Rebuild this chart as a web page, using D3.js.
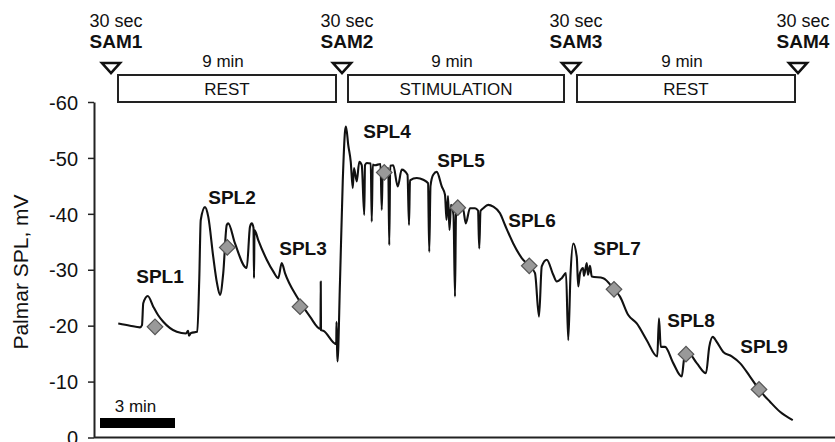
<!DOCTYPE html>
<html>
<head>
<meta charset="utf-8">
<script src="https://cdn.jsdelivr.net/npm/d3@7"></script>
<style>
  html, body { margin: 0; padding: 0; background: #fff; }
  svg { display: block; font-family: "Liberation Sans", Arial, sans-serif; }
</style>
</head>
<body>
<svg id="chart" width="835" height="442"></svg>
<script>
// ---- data (time in minutes, palmar SPL in mV) ----
const traceTime = [
  0.97, 1.44, 1.84, 1.92, 1.97, 2.15, 2.37, 2.56, 2.77, 3.31, 3.68, 3.76, 3.80, 3.88, 4.13,
  4.21, 4.27, 4.44, 4.57, 4.77, 4.92, 5.04, 5.17, 5.31, 5.37, 5.64, 6.11, 6.24, 6.31, 6.38,
  6.40, 6.42, 6.57, 6.91, 7.17, 7.37, 7.51, 7.64, 8.11, 8.64, 9.06, 9.07, 9.08, 9.17, 9.69,
  9.70, 9.72, 9.74, 9.84, 9.95, 10.04, 10.08, 10.17, 10.27, 10.35, 10.40, 10.51, 10.61, 10.71, 10.81,
  10.84, 10.91, 11.07, 11.11, 11.15, 11.24, 11.46, 11.51, 11.55, 11.61, 11.77, 11.81, 11.85, 11.97, 12.15,
  12.31, 12.54, 12.60, 12.64, 12.91, 13.17, 13.36, 13.41, 13.46, 13.57, 13.71, 13.91, 14.04, 14.10, 14.16,
  14.22, 14.28, 14.38, 14.44, 14.48, 14.55, 14.77, 14.87, 15.04, 15.24, 15.36, 15.41, 15.46, 15.57, 15.77,
  15.97, 16.24, 16.44, 16.77, 17.11, 17.41, 17.64, 17.80, 17.91, 18.11, 18.37, 18.51, 18.71, 18.88, 18.97,
  19.06, 19.17, 19.31, 19.37, 19.44, 19.56, 19.60, 19.71, 19.76, 19.84, 19.91, 20.37, 20.80, 21.04, 21.37,
  21.71, 22.11, 22.53, 22.60, 22.67, 22.84, 23.17, 23.51, 23.60, 23.68, 23.77, 24.11, 24.48, 24.61, 24.75,
  24.91, 25.17, 25.51, 25.84, 26.24, 26.60, 27.04, 27.44, 27.95
];
const traceSPL = [
  -20.4, -20.0, -19.7, -20.1, -24.0, -25.3, -23.4, -21.9, -20.7, -18.9, -18.6, -19.1, -18.2, -18.7, -18.9,
  -28.2, -38.9, -41.2, -39.5, -32.3, -27.6, -25.5, -29.4, -38.0, -38.3, -34.7, -30.3, -37.7, -38.3, -37.5,
  -28.5, -37.1, -35.3, -31.8, -29.7, -28.5, -31.2, -29.4, -25.2, -21.6, -19.4, -27.9, -19.2, -19.1, -16.7,
  -20.7, -16.5, -13.6, -27.9, -45.8, -54.7, -55.6, -52.3, -49.3, -44.6, -48.2, -45.8, -49.3, -48.7, -39.8,
  -48.7, -49.1, -49.0, -38.6, -48.8, -48.7, -48.9, -40.7, -48.0, -47.4, -48.2, -34.4, -48.6, -48.7, -44.9,
  -47.9, -47.0, -38.0, -46.0, -46.4, -46.1, -45.5, -33.2, -45.0, -47.0, -47.5, -44.9, -43.4, -38.9, -43.2,
  -37.1, -41.6, -39.8, -25.2, -39.8, -41.1, -40.7, -38.3, -41.0, -41.0, -40.6, -33.8, -40.5, -41.0, -41.6,
  -41.3, -40.1, -38.0, -34.7, -32.1, -30.7, -29.4, -21.6, -30.6, -31.8, -29.1, -27.9, -28.5, -29.4, -17.4,
  -29.1, -34.7, -32.3, -27.0, -29.4, -30.3, -28.9, -31.2, -29.1, -30.7, -28.8, -28.5, -26.5, -25.2, -21.9,
  -20.4, -17.4, -14.5, -21.3, -16.2, -16.2, -13.3, -10.9, -13.9, -14.9, -15.1, -13.3, -11.5, -16.2, -18.0,
  -17.1, -15.3, -14.5, -13.3, -10.9, -8.6, -6.4, -4.6, -3.1
];

const markerLabels = ["SPL1", "SPL2", "SPL3", "SPL4", "SPL5", "SPL6", "SPL7", "SPL8", "SPL9"];
const markerTime   = [2.44, 5.33, 8.24, 11.61, 14.55, 17.41, 20.80, 23.68, 26.60];
const markerSPL    = [-19.8, -34.0, -23.4, -47.4, -41.1, -30.7, -26.5, -14.9, -8.6];
const labelTime    = [2.64, 5.52, 8.36, 11.72, 14.68, 17.52, 20.92, 23.88, 26.80];
const labelSPL     = [-27.6, -41.7, -32.7, -53.5, -48.4, -37.7, -32.7, -19.7, -15.2];

const samNames = ["SAM1", "SAM2", "SAM3", "SAM4"];
const samTime  = [0.68, 9.92, 19.08, 28.16];
const samNote  = "30 sec";

const phaseNames = ["REST", "STIMULATION", "REST"];
const phaseStart = [0.96, 10.16, 19.32];
const phaseEnd   = [9.68, 18.80, 28.04];
const phaseNote  = "9 min";

const yTicks = [0, -10, -20, -30, -40, -50, -60];
const yTitle = "Palmar SPL, mV";
const scaleBarMinutes = 3;
const scaleBarLabel = "3 min";

// ---- drawing ----
const svg = d3.select("#chart");
const x = d3.scaleLinear().domain([0, 29.64]).range([94, 835]);
const y = d3.scaleLinear().domain([0, -60]).range([437.5, 102]);

// y axis
const yAxis = d3.axisLeft(y).tickValues(yTicks).tickSize(6).tickSizeOuter(0)
  .tickFormat(d => String(d));
const gy = svg.append("g").attr("transform", `translate(${x(0)},0)`).call(yAxis);
gy.select(".domain").attr("stroke", "#222").attr("stroke-width", 2);
gy.selectAll(".tick line").attr("stroke", "#222").attr("stroke-width", 1.5);
gy.selectAll(".tick text").attr("font-size", 20).attr("fill", "#111")
  .attr("font-family", "Liberation Sans, Arial, sans-serif")
  .attr("x", -16).attr("dy", "0.36em");

// x axis baseline
svg.append("line")
  .attr("x1", x(0)).attr("x2", 835).attr("y1", y(0)).attr("y2", y(0))
  .attr("stroke", "#222").attr("stroke-width", 2);

// y title
svg.append("text")
  .attr("transform", `translate(28,272) rotate(-90)`)
  .attr("text-anchor", "middle").attr("font-size", 21).attr("fill", "#111")
  .text(yTitle);

// trace
const pts = traceTime.map((t, i) => [t, traceSPL[i]]);
svg.append("path").datum(pts)
  .attr("fill", "none").attr("stroke", "#111").attr("stroke-width", 2.1)
  .attr("stroke-linejoin", "round")
  .attr("d", d3.line().curve(d3.curveMonotoneX).x(d => x(d[0])).y(d => y(d[1])));

// markers
svg.selectAll("rect.mk").data(markerTime).enter().append("rect")
  .attr("class", "mk")
  .attr("x", -5.5).attr("y", -5.5).attr("width", 11).attr("height", 11)
  .attr("transform", (t, i) => `translate(${x(t)},${y(markerSPL[i])}) rotate(45)`)
  .attr("fill", "#999").attr("stroke", "#555").attr("stroke-width", 1.2);

svg.selectAll("text.spl").data(markerLabels).enter().append("text")
  .attr("class", "spl")
  .attr("x", (d, i) => x(labelTime[i])).attr("y", (d, i) => y(labelSPL[i]))
  .attr("text-anchor", "middle").attr("font-size", 19).attr("font-weight", "bold")
  .attr("fill", "#111").text(d => d);

// phase boxes
const boxTop = 75, boxBot = 102;
phaseNames.forEach((name, i) => {
  svg.append("rect")
    .attr("x", x(phaseStart[i])).attr("y", boxTop)
    .attr("width", x(phaseEnd[i]) - x(phaseStart[i])).attr("height", boxBot - boxTop)
    .attr("fill", "#fff").attr("stroke", "#222").attr("stroke-width", 2);
  const cx = (x(phaseStart[i]) + x(phaseEnd[i])) / 2;
  svg.append("text").attr("x", cx).attr("y", 95).attr("text-anchor", "middle")
    .attr("font-size", 17).attr("fill", "#111").text(name);
  svg.append("text").attr("x", cx - 4).attr("y", 67).attr("text-anchor", "middle")
    .attr("font-size", 17).attr("fill", "#111").text(phaseNote);
});

// SAM triangles and labels
samNames.forEach((name, i) => {
  const cx = x(samTime[i]);
  svg.append("path")
    .attr("d", `M${cx - 9},${63} L${cx + 9},${63} L${cx},${73} Z`)
    .attr("fill", "#fff").attr("stroke", "#111").attr("stroke-width", 2.6)
    .attr("stroke-linejoin", "miter");
  svg.append("text").attr("x", cx + 5).attr("y", 27).attr("text-anchor", "middle")
    .attr("font-size", 18).attr("fill", "#111").text(samNote);
  svg.append("text").attr("x", cx + 5).attr("y", 48).attr("text-anchor", "middle")
    .attr("font-size", 19).attr("font-weight", "bold").attr("fill", "#111").text(name);
});

// scale bar
svg.append("rect")
  .attr("x", x(0.24)).attr("y", 418)
  .attr("width", x(scaleBarMinutes) - x(0)).attr("height", 10)
  .attr("fill", "#000");
svg.append("text")
  .attr("x", x(0.24) + (x(scaleBarMinutes) - x(0)) / 2 - 2).attr("y", 412)
  .attr("text-anchor", "middle").attr("font-size", 17).attr("fill", "#111")
  .text(scaleBarLabel);
</script>
</body>
</html>
